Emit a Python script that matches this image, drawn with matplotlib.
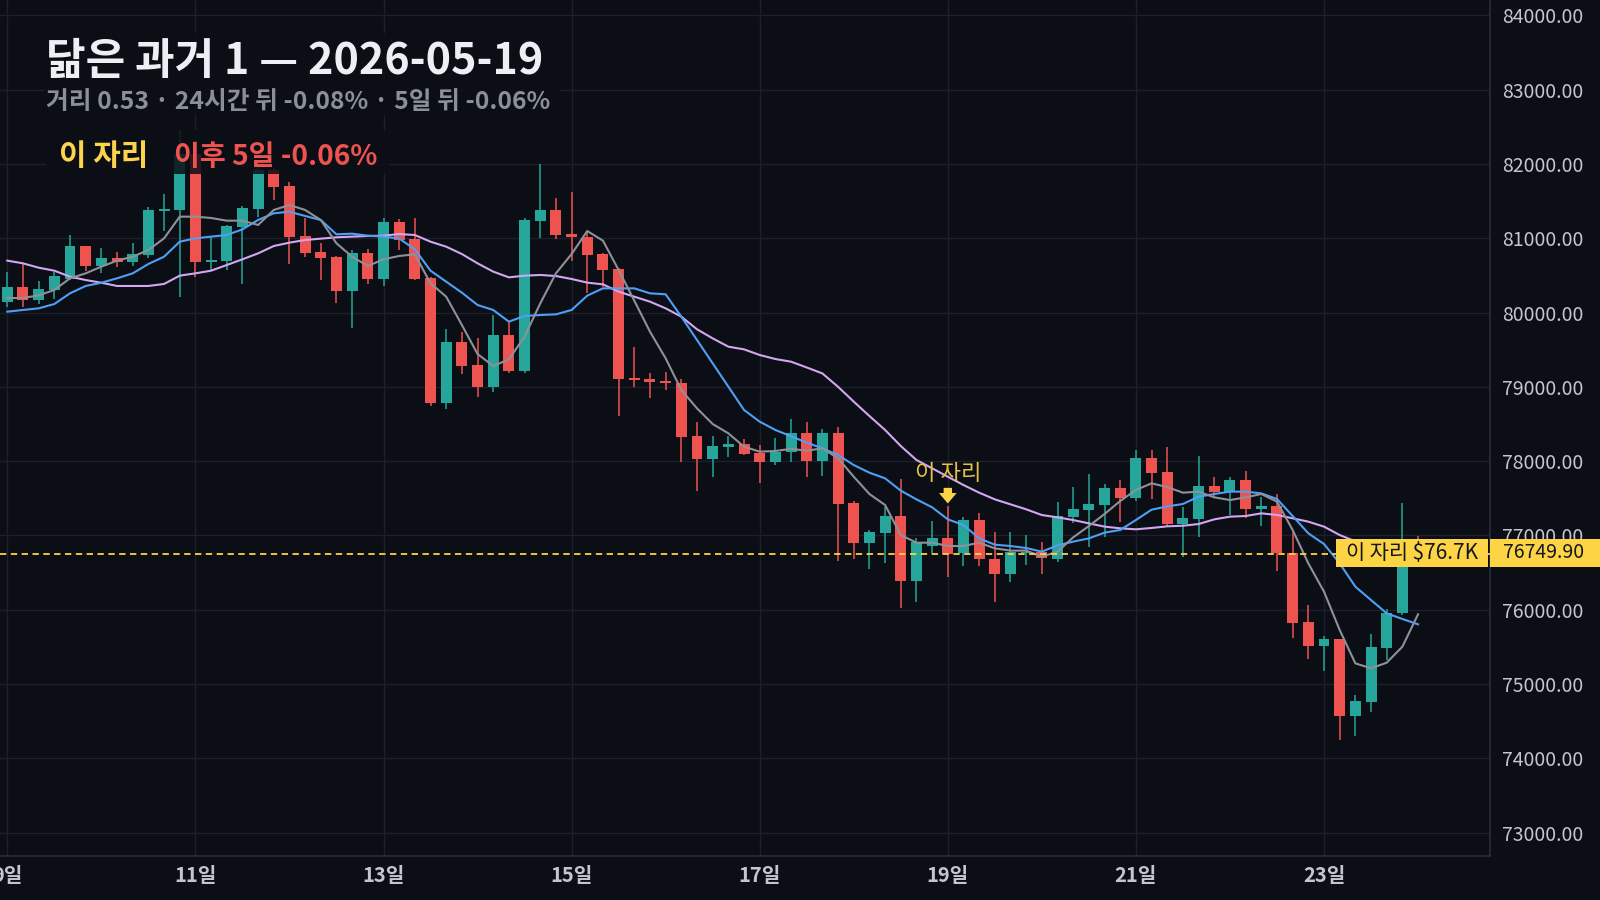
import matplotlib
matplotlib.use('Agg')
import matplotlib.pyplot as plt
from matplotlib.patches import Rectangle

plt.rcParams['font.family'] = ['Noto Sans CJK KR', 'DejaVu Sans']

BG = '#0b0e15'
GRID = '#1c202a'
AXIS_LINE = '#2a2e39'
UP = '#26a69a'
DOWN = '#ef5350'
YELLOW = '#fdd443'
LABEL = '#c3c6ce'

# 4-hour candles starting at day 9, 00:00
day_ticks = [0, 12, 24, 36, 48, 60, 72, 84]
day_labels = ['9일', '11일', '13일', '15일', '17일', '19일', '21일', '23일']

opens = [80141, 80343, 80168, 80303, 80446, 80895, 80626, 80734, 80680, 80774,
         81371, 81380, 82130, 80680, 80693, 81155, 81393, 81918, 81703, 81030,
         80814, 80747, 80294, 80796, 80455, 81220, 80989, 80464, 78787, 79603,
         79293, 79002, 79697, 79217, 81236, 81380, 81052, 81021, 80787, 80585,
         79118, 79105, 79078, 79051, 78338, 78033, 78194, 78230, 78114, 77992,
         78127, 78374, 78006, 78374, 77432, 76902, 77037, 77261, 76391, 76862,
         76969, 76759, 77207, 76682, 76485, 76759, 76781, 76687, 77252, 77342,
         77409, 77638, 77499, 78042, 77858, 77158, 77225, 77665, 77589, 77746,
         77360, 77396, 76759, 75834, 75516, 75606, 74574, 74762, 75489, 75951,
         76800]
highs = [80541, 80648, 80424, 80550, 81039, 80895, 80868, 80814, 80935, 81424,
         81595, 82456, 82150, 81021, 81178, 81433, 81960, 81940, 81752, 81272,
         80931, 80760, 80841, 80855, 81267, 81260, 81272, 80482, 79778, 79738,
         79652, 79966, 79868, 81267, 81999, 81537, 81622, 81088, 80800, 80603,
         79536, 79190, 79199, 79100, 78526, 78338, 78338, 78293, 78217, 78311,
         78562, 78526, 78427, 78454, 77467, 77073, 77387, 77755, 76960, 77194,
         77396, 77252, 77297, 77041, 77041, 77005, 76907, 77450, 77647, 77826,
         77692, 77746, 78149, 78149, 78192, 77382, 78069, 77790, 77790, 77867,
         77521, 77557, 77073, 76063, 75646, 75606, 74852, 75673, 76005, 77441,
         76992]
lows = [80078, 80078, 80114, 80186, 80437, 80563, 80527, 80617, 80626, 80738,
        81101, 80213, 80473, 80572, 80572, 80384, 81281, 81514, 80653, 80751,
        80437, 80132, 79796, 80384, 80361, 80841, 80438, 78742, 78706, 79177,
        78867, 78935, 79181, 79190, 81007, 80994, 80698, 80267, 80348, 78611,
        79002, 78854, 78957, 77992, 77600, 77791, 78060, 78082, 77700, 77947,
        77992, 77790, 77799, 76660, 76678, 76543, 76624, 76018, 76108, 76759,
        76445, 76593, 76593, 76108, 76377, 76602, 76480, 76646, 77171, 76848,
        76974, 77185, 77467, 77485, 77126, 76705, 76974, 77512, 77275, 77239,
        77131, 76525, 75624, 75332, 75179, 74246, 74305, 74628, 75323, 75928,
        76650]
closes = [80343, 80168, 80316, 80491, 80895, 80626, 80734, 80680, 80787, 81380,
          81389, 82130, 80680, 80707, 81164, 81402, 81918, 81694, 81021, 80805,
          80738, 80294, 80796, 80455, 81214, 80975, 80455, 78787, 79603, 79284,
          79002, 79697, 79217, 81245, 81380, 81048, 81021, 80778, 80577, 79110,
          79096, 79069, 79047, 78329, 78033, 78203, 78230, 78096, 77992, 78127,
          78374, 78006, 78374, 77423, 76902, 77041, 77261, 76391, 76916, 76960,
          76749.9, 77207, 76678, 76485, 76772, 76781, 76691, 77261, 77355, 77423,
          77638, 77508, 78042, 77844, 77158, 77234, 77665, 77589, 77746, 77360,
          77396, 76768, 75825, 75516, 75606, 74574, 74771, 75498, 75960, 76800,
          76700]

ma_fast = [80195, 80195, 80231, 80303, 80460, 80527, 80617, 80698, 80751, 80841,
           80998, 81290, 81290, 81272, 81236, 81236, 81178, 81380, 81447, 81380,
           81245, 80931, 80751, 80626, 80716, 80761, 80783, 80393, 80213, 79832,
           79442, 79280, 79370, 79675, 80123, 80527, 80787, 81097, 80967, 80572,
           80159, 79742, 79383, 78957, 78710, 78499, 78374, 78194, 78127, 78136,
           78165, 78140, 78172, 78037, 77790, 77557, 77409, 77005, 76902, 76902,
           76857, 76857, 76902, 76826, 76795, 76795, 76714, 76781, 76974, 77126,
           77288, 77463, 77611, 77701, 77650, 77575, 77589, 77512, 77476, 77512,
           77557, 77454, 77073, 76624, 76243, 75727, 75278, 75211, 75287, 75502,
           75938]
ma_mid = [80011, 80034, 80056, 80114, 80258, 80357, 80401, 80460, 80527, 80653,
          80751, 80953, 80998, 81021, 81043, 81119, 81245, 81335, 81357, 81299,
          81245, 81052, 81061, 81034, 81021, 80996, 80850, 80563, 80415, 80267,
          80101, 80034, 79877, 79953, 79966, 79975, 80034, 80227, 80325, 80325,
          80325, 80258, 80245, 79944, 79630, 79316, 79002, 78688, 78531, 78419,
          78335, 78248, 78172, 78082, 77947, 77844, 77768, 77602, 77485, 77378,
          77216, 77140, 76960, 76875, 76857, 76830, 76781, 76866, 76916, 76960,
          77037, 77073, 77207, 77346, 77390, 77423, 77521, 77557, 77589, 77589,
          77566, 77490, 77261, 77028, 76884, 76624, 76310, 76130, 75951, 75875,
          75803]
ma_slow = [80698, 80662, 80603, 80563, 80482, 80437, 80401, 80357, 80357, 80357,
           80384, 80496, 80527, 80563, 80639, 80716, 80796, 80895, 80940, 80976,
           80994, 81012, 81021, 81030, 81034, 81056, 81043, 80953, 80886, 80787,
           80662, 80550, 80473, 80496, 80505, 80491, 80451, 80402, 80379, 80280,
           80213, 80146, 80056, 79944, 79774, 79652, 79540, 79504, 79428, 79374,
           79338, 79260, 79180, 79000, 78800, 78607, 78419, 78203, 78015, 77903,
           77790, 77678, 77575, 77485, 77418, 77351, 77274, 77243, 77207, 77162,
           77118, 77095, 77082, 77100, 77122, 77130, 77153, 77216, 77252, 77261,
           77297, 77275, 77230, 77185, 77118, 77005, 76920, 76860, 76800, 76760,
           76720]

marker_index = 60
marker_price = 76749.90
price_ticks = list(range(73000, 84001, 1000))

W, H = 1600, 900


def fx(px):
    return px / W


def fy(py):
    return 1 - py / H


fig = plt.figure(figsize=(16, 9), dpi=100)
fig.patch.set_facecolor(BG)
ax = fig.add_axes([0, fy(856), fx(1490), 856 / H])
ax.set_facecolor(BG)

xs = list(range(len(opens)))
colors = [UP if c >= o else DOWN for o, c in zip(opens, closes)]
ax.vlines(xs, lows, highs, colors=colors, lw=1.1, zorder=2)
bottoms = [min(o, c) for o, c in zip(opens, closes)]
heights = [max(abs(c - o), 18) for o, c in zip(opens, closes)]
ax.bar(xs, heights, bottom=bottoms, width=0.7, color=colors, lw=0, zorder=3)

ax.plot(xs, ma_slow, color='#d3a6f2', lw=1.5, zorder=4)
ax.plot(xs, ma_mid, color='#4f9ff5', lw=1.5, zorder=5)
ax.plot(xs, ma_fast, color='#8e9198', lw=1.5, zorder=6)

ax.axhline(marker_price, color=YELLOW, lw=1.3, ls=(0, (3.5, 2.5)), zorder=7)

ax.text(marker_index, 77830, '이 자리', color='#e3c14a', fontsize=16,
        ha='center', va='center', zorder=8)
ax.annotate('', xy=(marker_index, 77430), xytext=(marker_index, 77640),
            arrowprops=dict(arrowstyle='simple,head_length=0.5,head_width=0.85,tail_width=0.4',
                            color=YELLOW, lw=0, mutation_scale=15,
                            shrinkA=0, shrinkB=0), zorder=8)

ax.set_xlim(-7.3 / 15.675, (1490 - 7.3) / 15.675)
ax.set_ylim(72685, 84206)

ax.set_xticks(day_ticks)
ax.set_xticklabels(day_labels, fontsize=14.5, fontweight='bold', color=LABEL)
ax.yaxis.tick_right()
ax.set_yticks(price_ticks)
ax.set_yticklabels([f'{p:.2f}' for p in price_ticks], fontsize=14, color=LABEL)
ax.tick_params(axis='x', length=0, pad=6.5)
ax.tick_params(axis='y', length=0, pad=8.5)
for lab in ax.get_yticklabels():
    lab.set_ha('left')

ax.grid(True, color=GRID, lw=1)
ax.set_axisbelow(True)
for side in ['left', 'top']:
    ax.spines[side].set_visible(False)
for side in ['right', 'bottom']:
    ax.spines[side].set_color(AXIS_LINE)
    ax.spines[side].set_linewidth(1.2)

# legend boxes in the top-left corner
fig.add_artist(Rectangle((fx(44), fy(115)), fx(560) - fx(44), (115 - 33) / H,
                         transform=fig.transFigure, facecolor=BG, alpha=0.85,
                         lw=0, zorder=2))
fig.add_artist(Rectangle((fx(46), fy(174)), fx(389) - fx(46), (174 - 130) / H,
                         transform=fig.transFigure, facecolor=BG, alpha=0.85,
                         lw=0, zorder=2))
fig.text(fx(46), fy(74), '닮은 과거 1 — 2026-05-19', fontsize=31,
         fontweight='bold', color='#eceff4', va='baseline', zorder=3)
fig.text(fx(46), fy(109), '거리 0.53 · 24시간 뒤 -0.08% · 5일 뒤 -0.06%',
         fontsize=17.8, fontweight='bold', color='#8a8f9a', va='baseline', zorder=3)
fig.text(fx(59), fy(165), '이 자리', fontsize=21.5, fontweight='bold',
         color='#fcd34d', va='baseline', zorder=3)
fig.text(fx(174), fy(165), '이후 5일 -0.06%', fontsize=20.3, fontweight='bold',
         color='#ef5350', va='baseline', zorder=3)

# price labels on the marker line
fig.add_artist(Rectangle((fx(1336), fy(567)), fx(1488) - fx(1336), 28 / H,
                         transform=fig.transFigure, facecolor=YELLOW, lw=0, zorder=2))
fig.text(fx(1346), fy(553), '이 자리 $76.7K', fontsize=15, color='#131722',
         va='center', zorder=3)
fig.add_artist(Rectangle((fx(1490), fy(567)), fx(1600) - fx(1490), 28 / H,
                         transform=fig.transFigure, facecolor=YELLOW, lw=0, zorder=2))
fig.text(fx(1503), fy(553), f'{marker_price:.2f}', fontsize=14, color='#131722',
         va='center', zorder=3)

fig.savefig('out.png', dpi=100, facecolor=BG)
